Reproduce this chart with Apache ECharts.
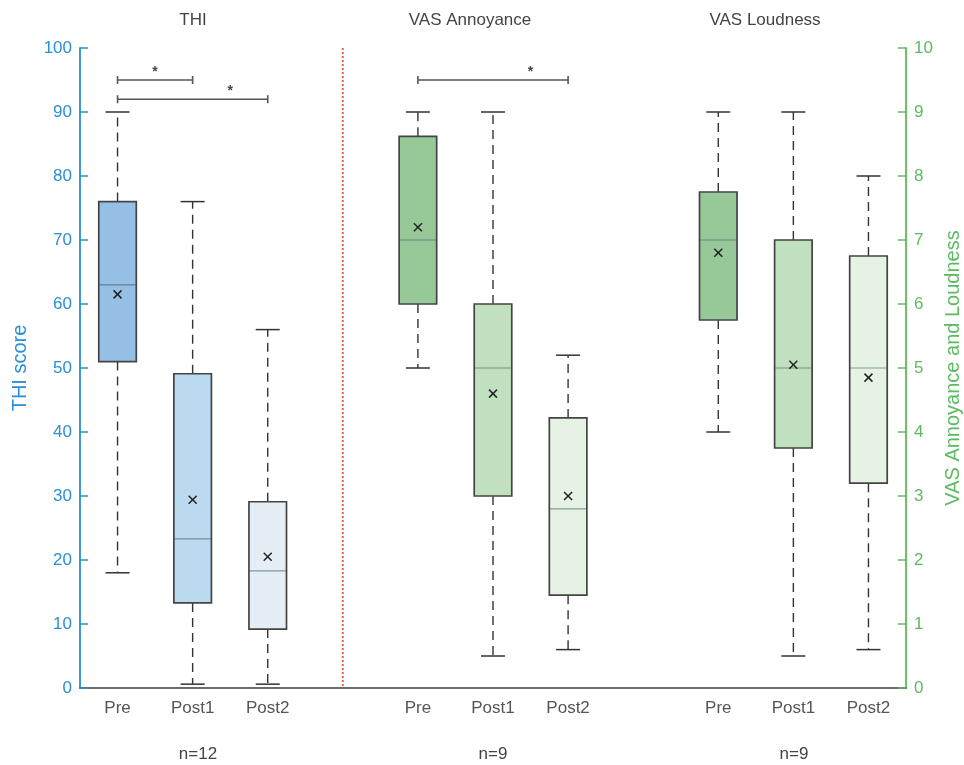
<!DOCTYPE html>
<html>
<head>
<meta charset="utf-8">
<script src="https://cdn.jsdelivr.net/npm/echarts@6/dist/echarts.min.js"></script>
<style>
  html, body { margin: 0; background: #fff; }
  #chart { width: 964px; height: 765px; }
</style>
</head>
<body>
<div id="chart"></div>
<script>
// categories (blank slots are the gaps between panels)
var categories = ['Pre', 'Post1', 'Post2', ' ', 'Pre', 'Post1', 'Post2', '  ', 'Pre', 'Post1', 'Post2'];
var thiPos = [0, 1, 2];
var annPos = [4, 5, 6];
var loudPos = [8, 9, 10];
var dividerPos = [3];

// box stats: [low, q1, median, q3, high]
var thiBox = [[18, 51, 63, 76, 90], [0.6, 13.3, 23.3, 49.1, 76], [0.6, 9.2, 18.3, 29.1, 56]];
var thiMean = [61.5, 29.4, 20.5];
var annBox = [[5, 6, 7, 8.62, 9], [0.5, 3, 5, 6, 9], [0.6, 1.45, 2.8, 4.22, 5.2]];
var annMean = [7.2, 4.6, 3];
var loudBox = [[4, 5.75, 7, 7.75, 9], [0.5, 3.75, 5, 7, 9], [0.6, 3.2, 5, 6.75, 8]];
var loudMean = [6.8, 5.05, 4.85];

// significance brackets: [from, to, level]
var sigThi = [[0, 1, 95], [0, 2, 92]];
var sigVas = [[4, 6, 9.5]];

var panelTitles = ['THI', 'VAS Annoyance', 'VAS Loudness'];
var panelN = ['n=12', 'n=9', 'n=9'];

var blue = '#2a8fd4';
var green = '#5cbb60';
var gray = '#555';
var blueFill = ['#95bfe4', '#bcdaef', '#e5eef4'];
var greenFill = ['#97c898', '#c0e0c0', '#e6f2e4'];

function boxRows(pos, box, mean) {
  return pos.map(function (p, i) {
    return [p].concat(box[i]).concat([mean[i], i]);
  });
}

function renderBox(fills) {
  return function (params, api) {
    var x = api.value(0);
    var pt = function (v) { return api.coord([x, v]); };
    var lo = pt(api.value(1)), q1 = pt(api.value(2)), md = pt(api.value(3));
    var q3 = pt(api.value(4)), hi = pt(api.value(5)), mn = pt(api.value(6));
    var cx = lo[0];
    var band = api.size([1, 0])[0];
    var hw = band * 0.25;
    var cw = band * 0.16;
    var dash = { stroke: '#333', lineWidth: 1.4, lineDash: [9, 6] };
    var solid = { stroke: '#333', lineWidth: 1.5 };
    var mk = { stroke: '#222', lineWidth: 1.5 };
    return {
      type: 'group',
      children: [
        { type: 'line', shape: { x1: cx, y1: q3[1], x2: cx, y2: hi[1] }, style: dash },
        { type: 'line', shape: { x1: cx, y1: q1[1], x2: cx, y2: lo[1] }, style: dash },
        { type: 'line', shape: { x1: cx - cw, y1: hi[1], x2: cx + cw, y2: hi[1] }, style: solid },
        { type: 'line', shape: { x1: cx - cw, y1: lo[1], x2: cx + cw, y2: lo[1] }, style: solid },
        { type: 'rect', shape: { x: cx - hw, y: q3[1], width: hw * 2, height: q1[1] - q3[1] },
          style: { fill: fills[api.value(7)], stroke: '#444', lineWidth: 1.7 } },
        { type: 'line', shape: { x1: cx - hw, y1: md[1], x2: cx + hw, y2: md[1] },
          style: { stroke: 'rgba(60,80,90,0.55)', lineWidth: 1.2 } },
        { type: 'line', shape: { x1: cx - 4, y1: mn[1] - 4, x2: cx + 4, y2: mn[1] + 4 }, style: mk },
        { type: 'line', shape: { x1: cx - 4, y1: mn[1] + 4, x2: cx + 4, y2: mn[1] - 4 }, style: mk }
      ]
    };
  };
}

function renderSig(params, api) {
  var a = api.coord([api.value(0), api.value(2)]);
  var b = api.coord([api.value(1), api.value(2)]);
  // star sits over the last step of the bracket
  var prev = api.coord([api.value(1) - 1, api.value(2)]);
  var sx = (prev[0] + b[0]) / 2;
  var st = { stroke: '#555', lineWidth: 1.6 };
  return {
    type: 'group',
    children: [
      { type: 'line', shape: { x1: a[0], y1: a[1], x2: b[0], y2: b[1] }, style: st },
      { type: 'line', shape: { x1: a[0], y1: a[1] - 4, x2: a[0], y2: a[1] + 4 }, style: st },
      { type: 'line', shape: { x1: b[0], y1: b[1] - 4, x2: b[0], y2: b[1] + 4 }, style: st },
      { type: 'text', x: sx, y: a[1] - 8,
        style: { text: '*', fill: '#444', font: 'bold 14px "Liberation Sans", Arial', align: 'center', verticalAlign: 'middle' } }
    ]
  };
}

function renderDivider(params, api) {
  var top = api.coord([api.value(0), 100]);
  var bot = api.coord([api.value(0), 0]);
  return {
    type: 'line',
    shape: { x1: top[0], y1: top[1], x2: bot[0], y2: bot[1] },
    style: { stroke: '#f0604a', lineWidth: 2, lineDash: [2, 2] }
  };
}

var font = '"Liberation Sans", Arial, sans-serif';
var titleX = [193, 470, 765];
var nX = [198, 493, 794];
var graphics = [];
panelTitles.forEach(function (t, i) {
  graphics.push({ type: 'text', x: titleX[i], y: 20,
    style: { text: t, fill: '#444', font: '17px ' + font, align: 'center', verticalAlign: 'middle' } });
});
panelN.forEach(function (t, i) {
  graphics.push({ type: 'text', x: nX[i], y: 754,
    style: { text: t, fill: '#444', font: '17px ' + font, align: 'center', verticalAlign: 'middle' } });
});

var chart = echarts.init(document.getElementById('chart'));
chart.setOption({
  backgroundColor: '#fff',
  animation: false,
  textStyle: { fontFamily: font },
  grid: { left: 80, right: 58, top: 48, bottom: 77, containLabel: false, outerBoundsMode: 'none' },
  graphic: graphics,
  xAxis: [
    {
      type: 'category', position: 'bottom', data: categories, boundaryGap: true,
      axisLine: { lineStyle: { color: gray, width: 1.5 } },
      axisTick: { inside: true, alignWithLabel: true, length: 8, lineStyle: { color: gray, width: 1.3 } },
      axisLabel: { interval: 0, fontSize: 17, color: gray, margin: 12 },
      splitLine: { show: false }
    },
    {
      type: 'category', position: 'top', data: categories, boundaryGap: true,
      axisLine: { lineStyle: { color: '#666', width: 1.5 } },
      axisTick: { inside: true, alignWithLabel: true, length: 8, lineStyle: { color: gray, width: 1.3 } },
      axisLabel: { show: false },
      splitLine: { show: false }
    }
  ],
  yAxis: [
    {
      type: 'value', position: 'left', min: 0, max: 100, interval: 10,
      name: 'THI score', nameLocation: 'middle', nameGap: 50,
      nameTextStyle: { color: blue, fontSize: 20 },
      axisLine: { show: true, lineStyle: { color: blue, width: 1.8 } },
      axisTick: { show: true, inside: true, length: 8, lineStyle: { color: blue, width: 1.5 } },
      axisLabel: { color: blue, fontSize: 17, margin: 8 },
      splitLine: { show: false }
    },
    {
      type: 'value', position: 'right', min: 0, max: 10, interval: 1,
      name: 'VAS Annoyance and Loudness', nameLocation: 'middle', nameGap: 37,
      nameTextStyle: { color: green, fontSize: 20 },
      axisLine: { show: true, lineStyle: { color: green, width: 1.8 } },
      axisTick: { show: true, inside: true, length: 8, lineStyle: { color: green, width: 1.5 } },
      axisLabel: { color: green, fontSize: 17, margin: 8 },
      splitLine: { show: false }
    }
  ],
  series: [
    { type: 'custom', name: 'divider', xAxisIndex: 0, yAxisIndex: 0, silent: true,
      data: dividerPos.map(function (p) { return [p, 0]; }), renderItem: renderDivider },
    { type: 'custom', name: 'THI', xAxisIndex: 0, yAxisIndex: 0,
      data: boxRows(thiPos, thiBox, thiMean), renderItem: renderBox(blueFill) },
    { type: 'custom', name: 'VAS Annoyance', xAxisIndex: 0, yAxisIndex: 1,
      data: boxRows(annPos, annBox, annMean), renderItem: renderBox(greenFill) },
    { type: 'custom', name: 'VAS Loudness', xAxisIndex: 0, yAxisIndex: 1,
      data: boxRows(loudPos, loudBox, loudMean), renderItem: renderBox(greenFill) },
    { type: 'custom', name: 'sig THI', xAxisIndex: 0, yAxisIndex: 0, silent: true,
      encode: { x: [0, 1], y: 2 }, data: sigThi, renderItem: renderSig },
    { type: 'custom', name: 'sig VAS', xAxisIndex: 0, yAxisIndex: 1, silent: true,
      encode: { x: [0, 1], y: 2 }, data: sigVas, renderItem: renderSig }
  ]
});
</script>
</body>
</html>
